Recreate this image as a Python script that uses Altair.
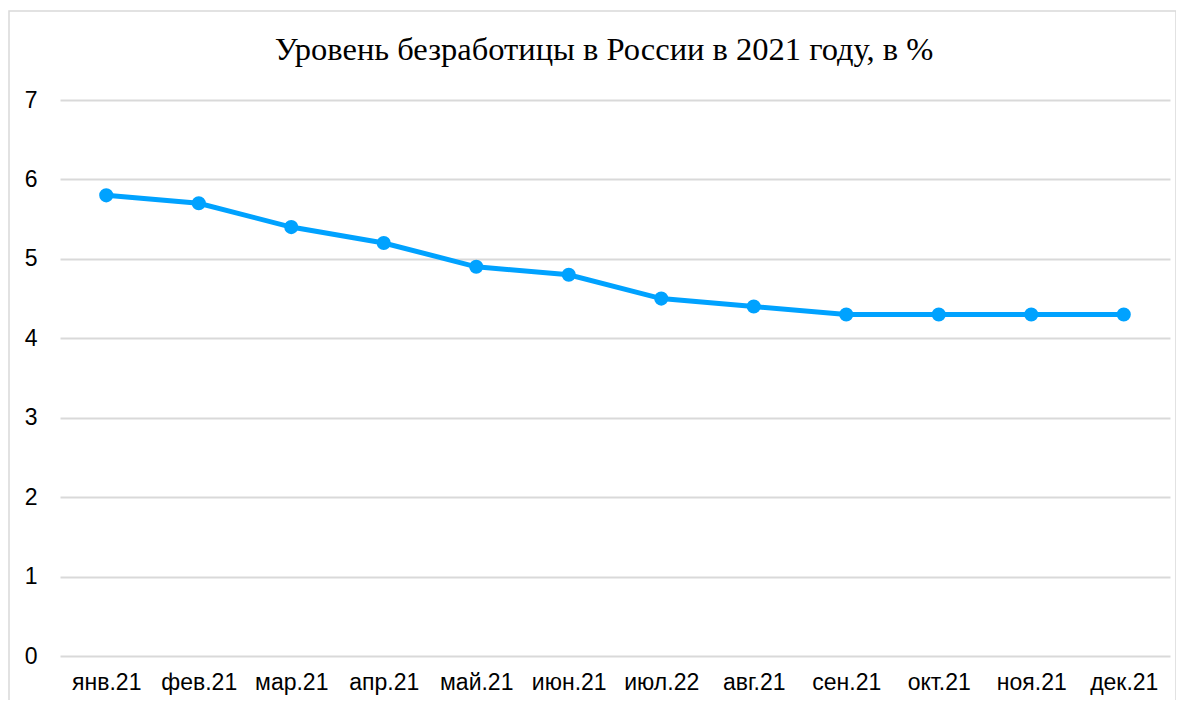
import altair as alt
import pandas as pd

months = ["янв.21", "фев.21", "мар.21", "апр.21", "май.21", "июн.21",
          "июл.22", "авг.21", "сен.21", "окт.21", "ноя.21", "дек.21"]
rates = [5.8, 5.7, 5.4, 5.2, 4.9, 4.8, 4.5, 4.4, 4.3, 4.3, 4.3, 4.3]
y_ticks = [0, 1, 2, 3, 4, 5, 6, 7]
title_text = "Уровень безработицы в России в 2021 году, в %"

df = pd.DataFrame({"month": months, "rate": rates})

W, H = 1110, 556
LINE_COLOR = "#00A2FF"

x_enc = alt.X("month:N", sort=months,
              scale=alt.Scale(type="point", padding=0.5),
              axis=alt.Axis(title=None, labelAngle=0, ticks=False, domain=False,
                            grid=False, labelFont="Liberation Sans", labelFontSize=23,
                            labelColor="#000000", labelPadding=15))
y_enc = alt.Y("rate:Q", scale=alt.Scale(domain=[0, 7], nice=False),
              axis=alt.Axis(title=None, values=y_ticks, ticks=False, domain=False,
                            grid=True, gridColor="#d9d9d9", gridWidth=2,
                            labelFont="Liberation Sans", labelFontSize=23,
                            labelColor="#000000", labelPadding=23))

frame = alt.Chart(pd.DataFrame({"a": [0]})).mark_rect(
    fill=None, stroke="#d9d9d9", strokeWidth=1.5, clip=False
).encode(x=alt.value(-51), x2=alt.value(1116), y=alt.value(-89), y2=alt.value(620))

title = alt.Chart(pd.DataFrame({"t": [title_text]})).mark_text(
    font="Liberation Serif", fontSize=32.5, color="#000000", align="center",
    baseline="alphabetic", clip=False
).encode(text="t:N", x=alt.value(544), y=alt.value(-40))

line = alt.Chart(df).mark_line(color=LINE_COLOR, strokeWidth=5).encode(x=x_enc, y=y_enc)
pts = alt.Chart(df).mark_point(filled=True, color=LINE_COLOR, size=200, opacity=1).encode(
    x=x_enc, y=y_enc)

chart = alt.layer(frame, title, line, pts).properties(
    width=W, height=H,
    autosize=alt.AutoSizeParams(type="none"),
    padding={"left": 52, "top": 92, "right": 6, "bottom": 44},
).configure_view(stroke=None)

chart.save("out.html", embed_options={"renderer": "svg", "actions": False})
